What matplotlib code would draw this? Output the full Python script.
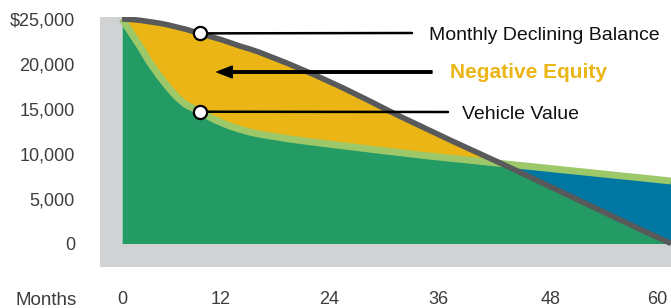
import numpy as np
import matplotlib
matplotlib.use('Agg')
import matplotlib.pyplot as plt

plt.rcParams['font.family'] = ['Liberation Sans', 'DejaVu Sans']

# data (months, dollars)
months = [0, 1, 2, 3, 4, 5, 6, 7, 8, 9, 10, 11, 12, 13, 14, 15, 18, 21, 24,
          27, 30, 33, 36, 39, 42, 45, 48, 51, 54, 57, 60]
balance = [25000, 24950, 24850, 24700, 24550, 24350, 24100, 23850, 23550,
           23250, 22950, 22650, 22300, 21950, 21650, 21300, 20100, 18800,
           17400, 15900, 14350, 12900, 11450, 10050, 8650, 7200, 5750, 4300,
           2850, 1400, 0]
vehicle_value = [25000, 23450, 21900, 20200, 18750, 17450, 16300, 15450,
                 14950, 14400, 13850, 13400, 13000, 12680, 12400, 12180,
                 11680, 11270, 10900, 10520, 10160, 9800, 9480, 9170, 8850,
                 8540, 8220, 7910, 7590, 7280, 6960]
y_ticks = [0, 5000, 10000, 15000, 20000, 25000]
y_labels = ['0', '5,000', '10,000', '15,000', '20,000', '$25,000']
x_labels = ['0', '12', '24', '36', '48', '60']
x_label_pos = [0, 10.8, 22.6, 34.6, 46.8, 58.5]  # where the labels sit in the original
marker_month = 8.5

C_GREEN = '#249b64'
C_LIGHT = '#9cc86a'
C_YELLOW = '#eab515'
C_BLUE = '#0077a2'
C_LINE = '#58595b'
C_BG = '#d1d2d4'
C_TEXT = '#3d3d3d'

W, H = 671, 308
fig = plt.figure(figsize=(W / 100, H / 100), dpi=100)
ax = fig.add_axes([100 / W, (H - 267) / H, 571 / W, 250 / H])
x0, x1 = -22 / 9.15, 60
y0, y1 = -2617, 25223
ax.set_xlim(x0, x1)
ax.set_ylim(y0, y1)
for s in ax.spines.values():
	s.set_visible(False)

# grey L-shaped frame: left strip and bottom strip
ax.axvspan(x0, 0, color=C_BG, lw=0, zorder=0)
ax.axhspan(y0, 0, color=C_BG, lw=0, zorder=0)

m = np.array(months, dtype=float)
bal = np.array(balance, dtype=float)
val = np.array(vehicle_value, dtype=float)

ax.fill_between(m, 0, val, color=C_GREEN, lw=0, zorder=1)
ax.fill_between(m, val, bal, where=bal >= val, interpolate=True, color=C_YELLOW, lw=0, zorder=2)
ax.fill_between(m, val, bal, where=bal < val, interpolate=True, color=C_BLUE, lw=0, zorder=2)
ax.plot(m, val, '-', color=C_LIGHT, lw=5, solid_capstyle='butt', zorder=3)
ax.plot(m, bal, '-', color=C_LINE, lw=4, solid_capstyle='butt', zorder=4)

bal_pt = np.interp(marker_month, m, bal)
val_pt = np.interp(marker_month, m, val)

# callout lines (right ends in figure pixels)
line_kw = dict(arrowstyle='-', lw=1.8, color='black', shrinkA=0, shrinkB=0)
ax.annotate('', xy=(marker_month, bal_pt), xycoords='data',
            xytext=(412, H - 33), textcoords='figure pixels', arrowprops=line_kw, zorder=5)
ax.annotate('', xy=(marker_month, val_pt), xycoords='data',
            xytext=(448, H - 112), textcoords='figure pixels', arrowprops=line_kw, zorder=5)
ax.annotate('', xy=(217, H - 72), xycoords='figure pixels',
            xytext=(432, H - 72), textcoords='figure pixels',
            arrowprops=dict(width=1.8, headwidth=8.5, headlength=11, color='black', shrink=0), zorder=5)

ax.plot([marker_month, marker_month], [bal_pt, val_pt], 'o', ms=9.5, mfc='white', mec='black',
        mew=1.6, ls='none', zorder=6)

fig.text(429 / W, (H - 39.5) / H, 'Monthly Declining Balance', fontsize=14,
         color='#111111', ha='left', va='baseline')
fig.text(450 / W, (H - 78.5) / H, 'Negative Equity', fontsize=15, fontweight='bold',
         color=C_YELLOW, ha='left', va='baseline')
fig.text(462 / W, (H - 119) / H, 'Vehicle Value', fontsize=14,
         color='#111111', ha='left', va='baseline')

ax.set_yticks(y_ticks)
ax.set_yticklabels(y_labels)
ax.set_xticks(x_label_pos)
ax.set_xticklabels(x_labels)
ax.tick_params(axis='y', length=0, pad=18, labelsize=13, labelcolor=C_TEXT)
ax.tick_params(axis='x', length=0, pad=17, labelsize=13, labelcolor=C_TEXT)
for t in ax.get_yticklabels():
	t.set_horizontalalignment('right')

fig.text(77 / W, 3 / H, 'Months', fontsize=13.5, color=C_TEXT, ha='right', va='baseline')

fig.savefig('out.png', dpi=100)
